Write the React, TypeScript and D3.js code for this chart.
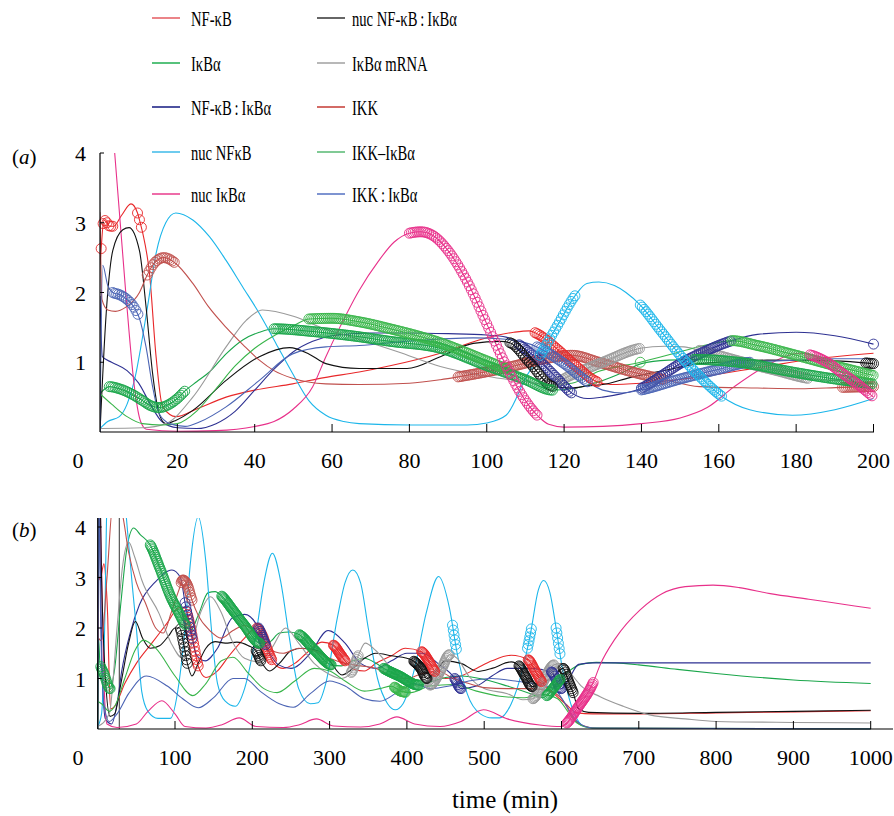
import React from 'react';
import * as d3 from 'd3';

type P = [number, number];

// ---------- panel (a) : 0-200 min ----------
const A_NFKB: P[] = [[0,2.4],[0.3,2.63],[1,3.04],[1.8,3.0],[2.5,2.95],[3.5,2.95],[5.5,3.1],[8,3.27],[9.7,3.14],[10.4,3.0],[11.1,2.84],[12.8,2.27],[14.5,1.08],[16.2,0.36],[19.7,0.22],[25,0.33],[32.6,0.5],[40,0.6],[49.8,0.69],[58,0.78],[67,0.86],[75,0.95],[88,1.13],[98,1.32],[107,1.43],[111,1.45],[113,1.41],[118,1.2],[123,0.95],[128.5,0.72],[132,0.68],[140,0.7],[155,0.79],[172,0.94],[185,1.05],[200,1.13]];
const A_NFKB_M: P[] = [[0.3,3.3],[9.7,11.1],[112.5,128.5]];

const A_IKBA: P[] = [[0,0.55],[2.4,0.65],[5,0.62],[8,0.55],[11,0.45],[13,0.38],[15.3,0.35],[18,0.4],[20,0.48],[22.2,0.6],[25,0.72],[28.3,0.86],[32.6,1.12],[36.9,1.32],[41.2,1.43],[45,1.48],[55,1.44],[65,1.38],[75,1.3],[88,1.2],[100,0.95],[110,0.75],[117,0.6],[122,0.62],[129,0.72],[135,0.85],[140,0.98],[147,1.03],[153.6,1.04],[165,1.0],[180,0.85],[190,0.76],[200,0.69]];
const A_IKBA_M: P[] = [[2.4,22.2],[45,117],[153.6,200]];

const A_NFKBIKBA: P[] = [[0,1.95],[0.6,1.08],[3,1.0],[7,0.88],[10,0.7],[13,0.4],[16,0.15],[20,0.06],[25,0.05],[30,0.12],[35,0.3],[40,0.6],[45,0.9],[50,1.15],[55,1.3],[60,1.38],[70,1.42],[80,1.42],[90,1.41],[100,1.39],[105,1.36],[108.4,1.25],[113,1.05],[118,0.78],[122.2,0.55],[126,0.48],[130,0.5],[135,0.55],[139.7,0.62],[145,0.8],[150,0.98],[155,1.12],[163.4,1.31],[170,1.4],[180,1.43],[190,1.38],[200,1.26]];
const A_NFKBIKBA_M: P[] = [[108.4,122.2],[140,163.4],[200,200]];

const A_NUCNFKB: P[] = [[0,0.05],[2,0.15],[5,0.22],[7,0.4],[9.3,0.84],[10.5,1.2],[12.3,1.8],[14.5,2.56],[17,3.0],[19.6,3.14],[24,3.04],[28.3,2.8],[32.6,2.46],[36.9,2.08],[41.2,1.7],[45.5,1.27],[49.8,0.84],[54,0.45],[58.4,0.24],[63,0.15],[67,0.12],[80,0.1],[95,0.1],[100,0.13],[105,0.24],[110.4,0.81],[113.8,1.1],[118,1.5],[122.9,1.96],[125.9,2.13],[129,2.15],[133,2.1],[136,2.0],[139.7,1.82],[145,1.45],[150,1.1],[155,0.8],[160.8,0.51],[168,0.32],[179,0.24],[190,0.32],[200,0.48]];
const A_NUCNFKB_M: P[] = [[113.8,122.9],[139.7,160.8]];

const A_NUCIKBA: P[] = [[0,7],[3.8,4.0],[6.6,2.04],[9,0.6],[10.5,0.15],[12,0.04],[20,0.01],[30,0.02],[40,0.08],[45,0.15],[50,0.33],[55,0.65],[58.4,1.08],[62,1.5],[67,2.03],[72,2.45],[76,2.72],[80,2.85],[83,2.87],[86,2.82],[90,2.6],[95,2.15],[100,1.55],[105,0.95],[110,0.45],[113.4,0.22],[116,0.11],[120,0.07],[130,0.08],[140,0.12],[150,0.2],[157,0.35],[164,0.65],[172,0.94],[181,1.13],[184,1.1],[188,1.0],[192,0.84],[196,0.68],[200,0.5]];
const A_NUCIKBA_M: P[] = [[80,113.4],[183.6,200]];

const A_NUCCPLX: P[] = [[0,0],[1.6,1.7],[3.3,2.6],[5.9,2.9],[7.5,2.93],[10.2,2.6],[11.9,1.8],[13.6,0.84],[15.3,0.26],[17,0.12],[19.7,0.17],[24,0.31],[32.6,0.74],[41.2,1.08],[49,1.21],[54,1.12],[58.4,0.98],[67,0.91],[79.4,0.91],[88,1.08],[96.5,1.27],[103.5,1.3],[106,1.28],[111,1.0],[117.2,0.65],[122,0.63],[126,0.66],[130,0.68],[137,0.78],[146.6,0.89],[155,0.98],[172.5,1.03],[189.7,1.02],[200,0.98]];
const A_NUCCPLX_M: P[] = [[106,117.2],[198,200]];

const A_MRNA: P[] = [[0,0.05],[11,0.06],[17,0.12],[24,0.5],[32.6,1.22],[37.8,1.6],[42,1.75],[50,1.66],[58,1.48],[67,1.33],[77,1.15],[88,0.94],[100,0.8],[110,0.72],[116,0.68],[122,0.82],[130,1.0],[139.7,1.2],[146,1.23],[151,1.22],[155,1.17],[165,1.02],[175,0.88],[183,0.77],[190,0.74],[200,0.75]];
const A_MRNA_M: P[] = [[116,139.7],[155,183]];

const A_IKK: P[] = [[0,3.15],[0.5,1.9],[2,1.75],[4,1.73],[6.7,1.79],[10.2,2.0],[12.2,2.25],[14,2.42],[16.5,2.5],[19.5,2.42],[24,2.13],[28,1.8],[32.6,1.5],[37,1.25],[41.2,1.03],[45,0.88],[49.8,0.77],[58.4,0.69],[67,0.68],[80,0.7],[88,0.75],[92.6,0.79],[105,0.92],[115,1.05],[122,1.1],[129,1.0],[137,0.87],[146,0.75],[155,0.65],[170,0.63],[181,0.62],[192,0.64],[200,0.65]];
const A_IKK_M: P[] = [[12.2,19.5],[92.6,146],[192,200]];

const A_IKKIKBA: P[] = [[0,0.55],[3,0.4],[7,0.22],[11,0.12],[16,0.1],[20,0.12],[25,0.3],[30,0.62],[35,0.95],[40,1.2],[45,1.38],[50,1.52],[54,1.62],[60,1.63],[67,1.58],[75,1.48],[88,1.28],[100,1.02],[110,0.8],[117,0.68],[122,0.7],[129,0.87],[139.7,1.0],[150,1.15],[157,1.25],[163.4,1.31],[170,1.24],[180,1.1],[190,0.95],[200,0.81]];
const A_IKKIKBA_M: P[] = [[54,105],[139.7,139.7],[163.4,200]];

const A_IKKCPLX: P[] = [[0,0],[0.7,2.39],[2,2.1],[3.3,2.0],[5,1.97],[7,1.9],[9,1.77],[10.2,1.63],[11.9,1.22],[13.6,0.65],[15.3,0.26],[18,0.12],[22,0.08],[26,0.15],[32.6,0.36],[41.2,0.74],[49.8,1.12],[58.4,1.22],[67,1.24],[79.4,1.3],[96.5,1.35],[105,1.33],[113,1.22],[120,0.98],[126,0.72],[130,0.6],[135,0.56],[139.7,0.6],[150,0.76],[160,0.9],[168,1.0],[180,1.03],[190,1.05],[200,1.05]];
const A_IKKCPLX_M: P[] = [[3.3,10.2],[113,126],[140,168]];

// ---------- panel (b) : 0-1000 min ----------
const B_NFKB: P[] = [[0,2.4],[0.3,2.63],[1,3.04],[3,2.95],[8,3.27],[11,2.84],[13,2.2],[15,0.9],[17,0.4],[22,0.45],[35,0.9],[50,1.3],[70,1.7],[90,2.1],[105,2.4],[112,2.4],[118,2.15],[124,1.7],[130,1.25],[140,1.02],[155,1.15],[170,1.45],[190,1.8],[205,2.0],[213,1.85],[220,1.55],[228,1.3],[240,1.2],[255,1.3],[270,1.5],[290,1.72],[305,1.66],[313,1.5],[320,1.35],[332,1.18],[345,1.15],[360,1.3],[380,1.45],[398,1.6],[419,1.53],[428,1.35],[436,1.14],[450,1.0],[470,1.05],[490,1.2],[510,1.35],[535,1.46],[557,1.37],[566,1.15],[574,0.94],[590,0.7],[605,0.5],[620,0.32],[640,0.3],[700,0.3],[800,0.32],[1000,0.36]];
const B_NFKB_M: P[] = [[115,130],[206,225],[305,320],[419,436],[557,574]];

const B_IKBA: P[] = [[0,0],[1,1.8],[3,1.3],[8,1.1],[16,0.8],[22,1.2],[30,2.5],[38,3.6],[46.5,3.98],[55,3.85],[67.8,3.65],[80,3.2],[95,2.6],[105,2.3],[113,2.07],[120,1.95],[130,2.25],[143,2.7],[152,2.72],[160.5,2.63],[175,2.35],[190,2.05],[210,1.7],[222,1.72],[235,1.9],[248,1.92],[260.6,1.87],[280,1.57],[302,1.27],[315,1.25],[330,1.35],[345,1.4],[360,1.3],[370,1.2],[390,1.05],[415,0.87],[430,0.93],[450,1.02],[470,1.05],[500,0.98],[530,0.85],[560,0.7],[575,0.62],[581,0.66],[590,0.82],[598,0.98],[610,1.15],[625,1.28],[645,1.32],[670,1.31],[700,1.27],[750,1.18],[800,1.1],[900,0.97],[1000,0.9]];
const B_IKBA_M: P[] = [[4,16],[68,113],[160.5,210],[261,302],[370,415],[581,598]];

const B_NFKBIKBA: P[] = [[0,4.6],[3,3.5],[6,1.0],[10,0.2],[18,0.1],[25,0.5],[31,1.14],[42,1.9],[54,2.46],[75,2.92],[96,3.15],[107,3.0],[113,2.5],[122,1.8],[128,1.46],[139,1.35],[155,1.6],[174,2.2],[190,2.27],[208,2.0],[217,1.67],[234,1.27],[250,1.2],[275,1.5],[298,1.95],[320,1.7],[340,1.3],[360,1.2],[380,1.35],[400,1.5],[420,1.5],[440,1.3],[462,1.0],[470,0.8],[490,0.85],[510,1.05],[530,1.2],[560,1.2],[587,1.13],[600,0.8],[610,1.0],[622,1.28],[640,1.31],[1000,1.31]];
const B_NFKBIKBA_M: P[] = [[113,122],[208,217],[462,470],[587,600]];

const B_NUCNFKB: P[] = [[0,0.05],[5,0.3],[9,2.0],[12,4.5],[20,6],[30,5.5],[37,4.2],[45,2.8],[50,2.0],[57,0.74],[65,0.35],[78,0.21],[94,0.21],[105,0.9],[113,2.0],[120,3.3],[130,4.2],[140,3.3],[147,2.0],[155,0.9],[165,0.55],[178,0.45],[190,0.8],[205,1.9],[215,2.9],[226,3.48],[237,2.9],[247,1.9],[260,0.8],[275,0.5],[285,0.52],[295,0.9],[310,2.2],[320,2.9],[330,3.15],[340,2.9],[350,2.0],[362,1.0],[375,0.5],[385,0.38],[395,0.5],[410,1.2],[425,2.3],[441,3.02],[455,2.4],[465,1.5],[478,0.7],[495,0.3],[510,0.22],[520,0.22],[535,0.5],[550,1.2],[560,1.9],[570,2.75],[577,2.94],[585,2.7],[593,2.0],[600,1.3],[610,0.6],[620,0.2],[630,0.05],[650,0.01],[1000,0.01]];
const B_NUCNFKB_M: P[] = [[459,464],[556,561],[593,598]];

const B_NUCIKBA: P[] = [[0,7],[3.8,4.0],[6.6,2.04],[9,0.6],[12,0.1],[25,0.03],[50,0.1],[65,0.35],[83,0.56],[100,0.3],[113,0.05],[140,0.02],[160,0.08],[183,0.22],[205,0.05],[240,0.03],[260,0.08],[283,0.2],[305,0.06],[340,0.04],[365,0.1],[387,0.24],[410,0.1],[443,0.05],[470,0.15],[499,0.38],[530,0.2],[572,0.08],[600,0.05],[607,0.12],[620,0.4],[641,0.92],[650,1.27],[670,1.8],[701.7,2.36],[730,2.68],[760,2.82],[796,2.85],[830,2.8],[870,2.68],[920,2.57],[960,2.48],[1000,2.39]];
const B_NUCIKBA_M: P[] = [[607,641]];

const B_NUCCPLX: P[] = [[0,0],[1,3],[2.5,5],[5,3],[10,1],[16,0.25],[22,0.3],[30,0.9],[40,1.7],[48.7,2.13],[58,1.8],[68,1.6],[80,1.65],[92,1.85],[100,2.0],[106,2.0],[111,1.7],[116,1.3],[122,1.05],[130,1.3],[140,1.6],[152,1.73],[165,1.7],[180,1.72],[195,1.65],[205,1.55],[211,1.35],[222,1.15],[235,1.3],[250,1.55],[265,1.6],[285,1.55],[300,1.35],[316,1.07],[330,1.2],[345,1.4],[360,1.5],[380,1.45],[400,1.4],[410,1.33],[418,1.2],[426,1.0],[435,1.1],[450,1.35],[470,1.3],[492,1.14],[510,1.2],[535,1.33],[545,1.25],[553,1.05],[562,0.84],[575,0.9],[590,1.05],[602,1.2],[609,0.95],[615,0.72],[622,0.4],[635,0.33],[700,0.31],[800,0.33],[1000,0.37]];
const B_NUCCPLX_M: P[] = [[107,116],[205,211],[409,426],[545,562],[602,615]];

const B_MRNA: P[] = [[0,0.05],[15,0.3],[25,2.0],[32,3.2],[40,3.7],[48,3.4],[57,2.95],[79,2.3],[95,1.7],[110,1.4],[120,1.6],[133,2.3],[146,2.62],[160,2.3],[174,1.74],[190,1.4],[208,1.33],[225,1.6],[243,2.0],[260,1.7],[280,1.3],[300,1.08],[315,1.0],[328,1.12],[337,1.45],[346,1.7],[360,1.55],[380,1.2],[400,0.95],[415,0.85],[430,0.87],[445,1.2],[455,1.47],[465,1.4],[480,1.05],[500,0.8],[530,0.7],[550,0.58],[563,0.6],[575,0.9],[590,1.27],[600,1.3],[612,1.1],[625,0.86],[650,0.64],[680,0.45],[714,0.28],[760,0.2],[800,0.15],[900,0.13],[1000,0.12]];
const B_MRNA_M: P[] = [[328,337],[430,455],[563,590]];

const B_IKK: P[] = [[0,3.15],[1,1.8],[5,1.75],[12,3.0],[20,4.5],[31,4.3],[40,3.5],[50,2.9],[61.6,2.5],[75,2.0],[85,1.9],[95,2.3],[105,2.75],[110,2.95],[116,2.85],[122,2.55],[130,2.25],[145,1.95],[160,1.8],[175,1.95],[190,2.05],[205,1.9],[220,1.6],[240,1.5],[260,1.6],[280,1.55],[300,1.4],[320,1.3],[340,1.25],[360,1.2],[380,1.05],[400,1.0],[420,1.1],[440,1.15],[460,1.0],[480,0.9],[500,0.82],[530,0.8],[560,0.8],[585,0.75],[600,0.6],[612,0.3],[625,0.08],[645,0.02],[1000,0]];
const B_IKK_M: P[] = [[108,122]];

const B_IKKIKBA: P[] = [[0,0.55],[5,0.5],[15,0.35],[22,0.45],[35,1.0],[48,1.55],[59,1.76],[75,1.6],[100,1.05],[123,0.66],[140,0.9],[160,1.35],[175,1.42],[195,1.1],[215,0.8],[232,0.72],[255,0.95],[280,1.2],[300,1.15],[320,0.95],[345,0.75],[365,0.8],[380,0.85],[392,0.75],[405,0.72],[430,0.85],[460,0.88],[490,0.75],[520,0.65],[550,0.62],[575,0.68],[595,0.6],[608,0.35],[620,0.12],[640,0.02],[1000,0]];
const B_IKKIKBA_M: P[] = [[384,398]];

const B_IKKCPLX: P[] = [[0,0],[1.5,4.5],[4,2.0],[8,0.5],[15,0.15],[25,0.3],[40,0.7],[63,1.05],[90,0.85],[110,0.6],[130,0.42],[150,0.62],[175,1.0],[190,1.0],[210,0.75],[235,0.5],[253,0.43],[275,0.7],[300,0.95],[320,0.85],[345,0.6],[365,0.55],[390,0.75],[410,0.9],[430,0.8],[455,0.85],[480,0.95],[510,1.0],[540,0.95],[570,0.88],[590,0.8],[605,0.5],[620,0.15],[640,0.02],[1000,0]];
const B_IKKCPLX_M: P[] = [];

const B_VLINE: number[] = [28];

const X_TICKS_A = [20, 40, 60, 80, 100, 120, 140, 160, 180, 200];
const X_TICKS_B = [100, 200, 300, 400, 500, 600, 700, 800, 900, 1000];
const Y_TICKS = [1, 2, 3, 4];

const LABELS = ['NF-κB', 'IκBα', 'NF-κB\u2009:\u2009IκBα', 'nuc NFκB', 'nuc IκBα',
  'nuc NF-κB\u2009:\u2009IκBα', 'IκBα mRNA', 'IKK', 'IKK–IκBα', 'IKK\u2009:\u2009IκBα'];
const COLORS = ['#e8282a', '#1aa64a', '#2e3192', '#1cb6ea', '#e8308a', '#111111', '#9a9a9a', '#c0504d', '#39b54a', '#4b64b4'];
const LEGEND_COLORS = ['#e9767b', '#45bb6e', '#3a3f96', '#5ec6ec', '#ec5ca0', '#555555', '#b0b0b0', '#cf5b55', '#72c48a', '#7088cc'];

const A_DATA = [A_NFKB, A_IKBA, A_NFKBIKBA, A_NUCNFKB, A_NUCIKBA, A_NUCCPLX, A_MRNA, A_IKK, A_IKKIKBA, A_IKKCPLX];
const A_MARKS = [A_NFKB_M, A_IKBA_M, A_NFKBIKBA_M, A_NUCNFKB_M, A_NUCIKBA_M, A_NUCCPLX_M, A_MRNA_M, A_IKK_M, A_IKKIKBA_M, A_IKKCPLX_M];
const B_DATA = [B_NFKB, B_IKBA, B_NFKBIKBA, B_NUCNFKB, B_NUCIKBA, B_NUCCPLX, B_MRNA, B_IKK, B_IKKIKBA, B_IKKCPLX];
const B_MARKS = [B_NFKB_M, B_IKBA_M, B_NFKBIKBA_M, B_NUCNFKB_M, B_NUCIKBA_M, B_NUCCPLX_M, B_MRNA_M, B_IKK_M, B_IKKIKBA_M, B_IKKCPLX_M];

const FONT = '"Liberation Serif", "Times New Roman", serif';

// monotone-X tangents identical to d3.curveMonotoneX, so markers sit on the drawn curve
function tangents(pts: P[]): number[] {
  const n = pts.length;
  const m = new Array(n).fill(0);
  if (n === 2) {
    const s = (pts[1][1] - pts[0][1]) / (pts[1][0] - pts[0][0]);
    return [s, s];
  }
  for (let i = 1; i < n - 1; i++) {
    const h0 = pts[i][0] - pts[i - 1][0];
    const h1 = pts[i + 1][0] - pts[i][0];
    const s0 = (pts[i][1] - pts[i - 1][1]) / h0;
    const s1 = (pts[i + 1][1] - pts[i][1]) / h1;
    const p = (s0 * h1 + s1 * h0) / (h0 + h1);
    m[i] = ((s0 < 0 ? -1 : 1) + (s1 < 0 ? -1 : 1)) * Math.min(Math.abs(s0), Math.abs(s1), 0.5 * Math.abs(p)) || 0;
  }
  const h0 = pts[1][0] - pts[0][0];
  m[0] = (3 * (pts[1][1] - pts[0][1]) / h0 - m[1]) / 2;
  const hn = pts[n - 1][0] - pts[n - 2][0];
  m[n - 1] = (3 * (pts[n - 1][1] - pts[n - 2][1]) / hn - m[n - 2]) / 2;
  return m;
}

function evalAt(pts: P[], m: number[], t: number): number {
  const xs = pts.map(p => p[0]);
  let i = d3.bisectRight(xs, t) - 1;
  i = Math.max(0, Math.min(pts.length - 2, i));
  const [x0, y0] = pts[i];
  const [x1, y1] = pts[i + 1];
  const h = x1 - x0;
  const s = (t - x0) / h;
  const s2 = s * s, s3 = s2 * s;
  return (2 * s3 - 3 * s2 + 1) * y0 + (s3 - 2 * s2 + s) * h * m[i] + (-2 * s3 + 3 * s2) * y1 + (s3 - s2) * h * m[i + 1];
}

interface PanelProps {
  id: string;
  x: d3.ScaleLinear<number, number>;
  y: d3.ScaleLinear<number, number>;
  data: P[][];
  marks: P[][];
  step: number;
  xTicks: number[];
  axisEnd: number;
  top: number;
  label: string;
  labelY: number;
  vlines: number[];
}

function Panel(props: PanelProps) {
  const { id, x, y, data, marks, step, xTicks, axisEnd, top, label, labelY, vlines } = props;
  const [x0] = x.range();
  const x1 = x(x.domain()[1]);
  const y0 = y(0);
  const line = d3.line<P>().x(d => x(d[0])).y(d => y(d[1])).curve(d3.curveMonotoneX);
  const markerOrder = [7, 6, 0, 2, 9, 5, 1, 8, 3, 4];
  return (
    <g>
      <defs>
        <clipPath id={id}>
          <rect x={x0} y={top} width={x1 - x0 + 1} height={y0 - top + 1} />
        </clipPath>
      </defs>
      <g clipPath={`url(#${id})`} fill="none">
        {vlines.map((t, i) => (
          <line key={'v' + i} x1={x(t)} x2={x(t)} y1={y0} y2={top} stroke="#555" strokeWidth={1.2} />
        ))}
        {data.map((pts, i) => (
          <path key={i} d={line(pts) || ''} stroke={COLORS[i]} strokeWidth={1.1} />
        ))}
      </g>
      <g fill="none">
        {markerOrder.map(i => {
          const pts = data[i];
          const m = tangents(pts);
          const circles: JSX.Element[] = [];
          marks[i].forEach((iv, k) => {
            for (let t = iv[0]; t <= iv[1] + 1e-9; t += step) {
              const v = evalAt(pts, m, t);
              circles.push(<circle key={k + '_' + t} cx={x(t)} cy={y(v)} r={5} stroke={COLORS[i]} strokeWidth={0.9} />);
            }
          });
          return <g key={'m' + i}>{circles}</g>;
        })}
      </g>
      {/* axes */}
      <line x1={x0} x2={x0} y1={top} y2={y0} stroke="#000" strokeWidth={1.2} />
      <line x1={x0} x2={axisEnd} y1={y0} y2={y0} stroke="#000" strokeWidth={1.2} />
      {Y_TICKS.map(v => (
        <g key={'yt' + v}>
          <line x1={x0} x2={x0 + 4} y1={y(v)} y2={y(v)} stroke="#000" strokeWidth={1} />
          <text x={86} y={y(v) + 8} fontSize={22} textAnchor="end" fontFamily={FONT}>{v}</text>
        </g>
      ))}
      {xTicks.map(v => (
        <g key={'xt' + v}>
          <line x1={x(v)} x2={x(v)} y1={y0} y2={y0 - 8} stroke="#000" strokeWidth={1} />
          <text x={x(v)} y={y0 + 36} fontSize={22} textAnchor="middle" fontFamily={FONT}>{v}</text>
        </g>
      ))}
      <text x={78} y={y0 + 36} fontSize={22} textAnchor="middle" fontFamily={FONT}>0</text>
      <text x={12} y={labelY} fontSize={21} fontFamily={FONT}>(<tspan fontStyle="italic">{label}</tspan>)</text>
    </g>
  );
}

export default function App() {
  const xA = d3.scaleLinear().domain([0, 200]).range([100, 873.5]);
  const yA = d3.scaleLinear().domain([0, 4]).range([432, 153]);
  const xB = d3.scaleLinear().domain([0, 1000]).range([97.7, 870.7]);
  const yB = d3.scaleLinear().domain([0, 4]).range([729, 527]);
  const legendRows = [18, 63, 107, 152, 194];
  const legendCols = [{ lx: 152, tx: 191 }, { lx: 317, tx: 352 }];
  return (
    <svg width={894} height={816} style={{ position: 'absolute', left: 0, top: 0, background: '#fff' }}>
      <rect width={894} height={816} fill="#fff" />
      {LABELS.map((lab, i) => {
        const col = legendCols[Math.floor(i / 5)];
        const ry = legendRows[i % 5];
        return (
          <g key={'lg' + i}>
            <line x1={col.lx} x2={col.lx + 28} y1={ry} y2={ry} stroke={LEGEND_COLORS[i]} strokeWidth={1.8} />
            <g transform={`translate(${col.tx},${ry + 7.5}) scale(0.68,1)`}>
              <text x={0} y={0} fontSize={21.5} fontFamily={FONT}>{lab}</text>
            </g>
          </g>
        );
      })}
      <Panel id="clipA" x={xA} y={yA} data={A_DATA} marks={A_MARKS} step={0.5} xTicks={X_TICKS_A}
        axisEnd={874} top={153} label="a" labelY={164} vlines={[]} />
      <Panel id="clipB" x={xB} y={yB} data={B_DATA} marks={B_MARKS} step={1} xTicks={X_TICKS_B}
        axisEnd={893} top={518} label="b" labelY={537} vlines={B_VLINE} />
      <text x={505} y={808} fontSize={25} textAnchor="middle" fontFamily={FONT}>time (min)</text>
    </svg>
  );
}
